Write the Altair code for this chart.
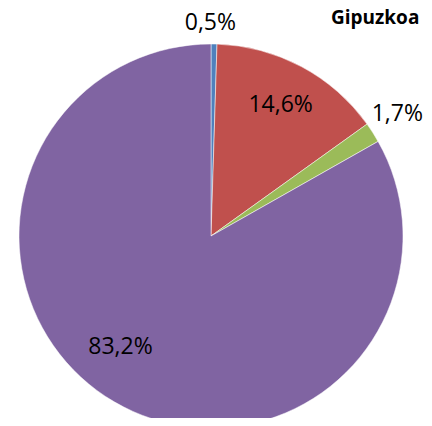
import altair as alt
import pandas as pd

categories = ["A", "B", "C", "D"]
values = [0.5, 14.6, 1.7, 83.2]
labels = ["0,5%", "14,6%", "1,7%", "83,2%"]
colors = ["#4F81BD", "#C0504D", "#9BBB59", "#8064A2"]
title_text = "Gipuzkoa"

df = pd.DataFrame({"cat": categories, "v": values, "label": labels, "idx": list(range(len(values)))})

CX, CY = 203, 228

base = alt.Chart(df).encode(
    theta=alt.Theta("v:Q", stack=True),
    order=alt.Order("idx:Q"),
)

pie = base.mark_arc(radius=192, stroke="white", strokeWidth=0.5).encode(
    color=alt.Color("cat:N", scale=alt.Scale(domain=categories, range=colors), legend=None),
    x=alt.value(CX), y=alt.value(CY),
)

def label_layer(cat, radius, dx=0, dy=0):
    return base.mark_text(radius=radius, font="Open Sans", fontSize=23, color="black",
                          dx=dx, dy=dy, align="center", baseline="middle").encode(
        detail="cat:N",
        text=alt.condition(f"datum.cat == '{cat}'", "label:N", alt.value("")),
        x=alt.value(CX), y=alt.value(CY),
    )

title = alt.Chart(pd.DataFrame({"t": [title_text]})).mark_text(
    font="Open Sans", fontSize=19, fontWeight="bold", color="black",
    align="left", baseline="alphabetic",
).encode(text="t:N", x=alt.value(323), y=alt.value(16))

layers = [
    pie,
    label_layer("A", 215, dx=-4, dy=2),
    label_layer("B", 148),
    label_layer("C", 227, dx=-5),
    label_layer("D", 148, dx=-16, dy=-17),
    title,
]

chart = alt.layer(*layers).properties(
    width=416, height=410, padding=0, autosize=alt.AutoSizeParams(type="none"),
).configure_view(stroke=None)

chart.save("out.html", embed_options={"renderer": "svg", "actions": False})
